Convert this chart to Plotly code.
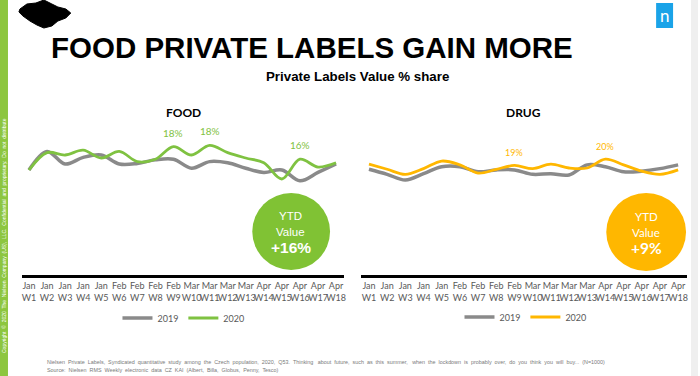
import plotly.graph_objects as go

W, H = 700, 376
def px(x): return x / W
def py(y): return 1 - y / H

# ---------------- data ----------------
months = ["Jan", "Jan", "Jan", "Jan", "Jan", "Feb", "Feb", "Feb", "Feb",
          "Mar", "Mar", "Mar", "Mar", "Apr", "Apr", "Apr", "Apr", "Apr"]
weeks = ["W1", "W2", "W3", "W4", "W5", "W6", "W7", "W8", "W9",
         "W10", "W11", "W12", "W13", "W14", "W15", "W16", "W17", "W18"]
categories = [f"{m}<br>{w}" for m, w in zip(months, weeks)]

food_2019 = [14.1, 17.2, 15.1, 16.2, 16.6, 15.1, 15.2, 15.8, 15.9,
             14.4, 15.5, 15.3, 14.4, 13.7, 14.1, 12.3, 13.7, 15.1]
food_2020 = [14.1, 17.0, 16.6, 17.4, 16.1, 17.2, 15.5, 15.9, 18.0,
             16.6, 18.2, 17.0, 16.1, 15.3, 12.6, 15.9, 14.6, 15.3]
drug_2019 = [18.4, 17.6, 16.7, 17.7, 18.8, 18.8, 18.0, 18.3, 18.3,
             17.6, 17.7, 17.5, 19.1, 18.8, 18.0, 18.1, 18.5, 19.1]
drug_2020 = [19.2, 18.4, 17.6, 18.5, 19.7, 19.1, 17.8, 18.4, 19.0,
             18.5, 19.2, 18.6, 18.6, 20.0, 19.1, 18.1, 17.6, 18.3]

food_label_idx = [8, 10, 15]
food_label_txt = ["18%", "18%", "16%"]
drug_label_idx = [8, 13]
drug_label_txt = ["19%", "20%"]

food_ytd = ["YTD", "Value", "+16%"]
drug_ytd = ["YTD", "Value", "+9%"]

GRAY = "#8a8a8a"
GREEN = "#7fc241"
GOLD = "#ffb700"
CIRCLE_GREEN = "#80c234"
TICK = "#595959"

fig = go.Figure()
fig.add_trace(go.Scatter(x=categories, y=food_2019, mode="lines", name="2019",
                         line=dict(color=GRAY, width=3.5, shape="spline", smoothing=1),
                         xaxis="x", yaxis="y", legend="legend"))
fig.add_trace(go.Scatter(x=categories, y=food_2020, mode="lines", name="2020",
                         line=dict(color=GREEN, width=2.8, shape="spline", smoothing=1),
                         xaxis="x", yaxis="y", legend="legend"))
fig.add_trace(go.Scatter(x=categories, y=drug_2019, mode="lines", name="2019",
                         line=dict(color=GRAY, width=3.5, shape="spline", smoothing=1),
                         xaxis="x2", yaxis="y2", legend="legend2"))
fig.add_trace(go.Scatter(x=categories, y=drug_2020, mode="lines", name="2020",
                         line=dict(color=GOLD, width=2.8, shape="spline", smoothing=1),
                         xaxis="x2", yaxis="y2", legend="legend2"))

tickfont = dict(family="Lato, sans-serif", size=9, color=TICK)
xcommon = dict(type="category", showline=True, linecolor="black", linewidth=3,
               showgrid=False, zeroline=False, ticks="", tickfont=tickfont,
               tickangle=0, fixedrange=True)
fig.update_layout(
    width=W, height=H, autosize=False,
    margin=dict(l=0, r=0, t=0, b=0),
    paper_bgcolor="white", plot_bgcolor="white",
    xaxis=dict(domain=[px(22), px(345)], range=[-0.39, 17.44], anchor="y", **xcommon),
    yaxis=dict(domain=[py(275), py(125)], range=[-3.39, 21.6], visible=False, anchor="x",
               fixedrange=True),
    xaxis2=dict(domain=[px(362), px(689)], range=[-0.44, 17.49], anchor="y2", **xcommon),
    yaxis2=dict(domain=[py(275), py(125)], range=[1.68, 25.4], visible=False, anchor="x2",
                fixedrange=True),
    legend=dict(orientation="h", x=px(184), xanchor="center", y=py(318), yanchor="middle",
                font=dict(family="Lato, sans-serif", size=9, color=TICK),
                bgcolor="rgba(0,0,0,0)", itemwidth=30),
    legend2=dict(orientation="h", x=px(527), xanchor="center", y=py(317), yanchor="middle",
                 font=dict(family="Lato, sans-serif", size=9, color=TICK),
                 bgcolor="rgba(0,0,0,0)", itemwidth=30),
)

shapes = []
# left green sidebar
shapes.append(dict(type="rect", xref="paper", yref="paper", x0=0, x1=px(8), y0=0, y1=1,
                   fillcolor="#8dc63f", line=dict(width=0), layer="below"))
# right page edge
shapes.append(dict(type="rect", xref="paper", yref="paper", x0=px(693), x1=1, y0=0, y1=1,
                   fillcolor="#efefef", line=dict(width=0), layer="below"))
# nielsen logo box
shapes.append(dict(type="rect", xref="paper", yref="paper", x0=px(658), x1=px(675),
                   y0=py(28), y1=py(3), fillcolor="#1aa3e8", line=dict(width=0)))
# Czech map silhouette (decorative)
blob = [(20, 9), (27, 4), (36, 3), (44, 0), (52, 4), (58, 7), (66, 9), (71, 13), (66, 18),
        (58, 21), (52, 26), (44, 28), (37, 25), (30, 21), (23, 16), (19, 12)]
path = "M " + " L ".join(f"{px(x):.4f},{py(y):.4f}" for x, y in blob) + " Z"
shapes.append(dict(type="path", xref="paper", yref="paper", path=path,
                   fillcolor="black", line=dict(color="black", width=1)))
# YTD circles
shapes.append(dict(type="circle", xref="paper", yref="paper", x0=px(253), x1=px(331),
                   y0=py(270), y1=py(193), fillcolor=CIRCLE_GREEN, line=dict(width=0)))
shapes.append(dict(type="circle", xref="paper", yref="paper", x0=px(608), x1=px(688),
                   y0=py(271), y1=py(193), fillcolor=GOLD, line=dict(width=0)))
fig.update_layout(shapes=shapes)

ann = []
def text(x, y, s, size, color="black", family="Liberation Sans, Arial, sans-serif",
         bold=False, xanchor="center", **kw):
    if bold:
        s = f"<b>{s}</b>"
    ann.append(dict(x=px(x), y=py(y), xref="paper", yref="paper", text=s, showarrow=False,
                    xanchor=xanchor, yanchor="middle",
                    font=dict(size=size, color=color, family=family), **kw))

text(313, 48, "FOOD PRIVATE LABELS GAIN MORE", 29.5, bold=True)
text(359, 77, "Private Labels Value % share", 13.3, bold=True)
text(184, 112, "FOOD", 12, family="Lato, sans-serif", bold=True)
text(525, 112, "DRUG", 12, family="Lato, sans-serif", bold=True)
text(666.5, 16, "n", 17, color="white", family="Lato, sans-serif")

# YTD circle texts
text(291.5, 216, food_ytd[0], 11.5, color="white")
text(291.5, 232, food_ytd[1], 11.5, color="white")
text(291.5, 248, food_ytd[2], 15.5, color="white", bold=True)
text(648, 216, drug_ytd[0], 11.5, color="white", family="Lato, sans-serif")
text(648, 232, drug_ytd[1], 11.5, color="white", family="Lato, sans-serif")
text(648, 248, drug_ytd[2], 15.5, color="white", family="Lato, sans-serif", bold=True)

# footer
text(45, 362, "Nielsen  Private  Labels,  Syndicated  quantitative  study  among  the  Czech  population,  2020,  Q53.  "
     "Thinking   about  future,  such  as  this  summer,   when  the  lockdown  is  probably  over,  do  you  think  you  will  buy...  (N=1000)",
     5.4, color="#7a7a7a", xanchor="left")
text(45, 370, "Source:  Nielsen  RMS  Weekly  electronic  data  CZ  KAI  (Albert,  Billa,  Globus,  Penny,  Tesco)",
     5.4, color="#7a7a7a", xanchor="left")
# sidebar text
text(4, 235, "Copyright  ©  2020  The  Nielsen  Company  (US),  LLC.  Confidential  and  proprietary.  Do  not  distribute",
     5, color="white", textangle=-90)

# data labels on peaks
for i, t in zip(food_label_idx, food_label_txt):
    ann.append(dict(x=categories[i], y=food_2020[i], xref="x", yref="y", text=t,
                    showarrow=False, yshift=14, yanchor="middle",
                    font=dict(size=10, color=GREEN, family="Lato, sans-serif")))
for i, t in zip(drug_label_idx, drug_label_txt):
    ann.append(dict(x=categories[i], y=drug_2020[i], xref="x2", yref="y2", text=t,
                    showarrow=False, yshift=13, yanchor="middle",
                    font=dict(size=9, color=GOLD, family="Lato, sans-serif")))

fig.update_layout(annotations=ann)
fig.write_html("out.html", config={"displayModeBar": False, "staticPlot": True},
               post_script="document.body.style.margin='0';document.body.style.padding='0';")
